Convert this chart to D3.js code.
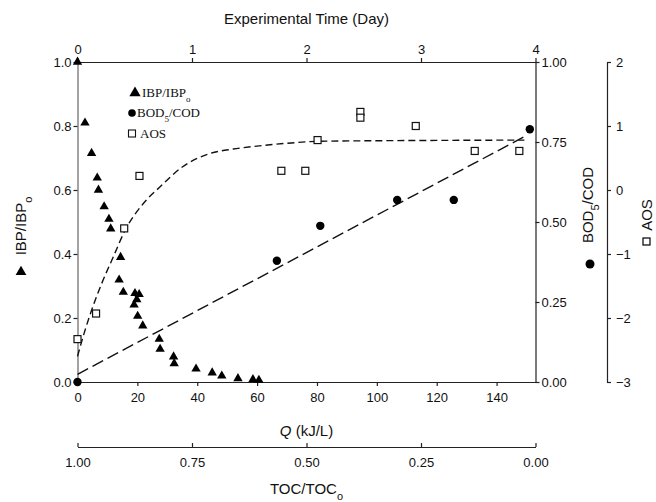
<!DOCTYPE html>
<html>
<head>
<meta charset="utf-8">
<script src="https://cdn.jsdelivr.net/npm/d3@7"></script>
<style>
  body { margin: 0; background: #fff; }
  svg text { font-family: "Liberation Sans", Arial, sans-serif; fill: #111; }
</style>
</head>
<body>
<div id="chart"></div>
<script>
// IBP/IBPo vs Q (kJ/L)
const ibpQ   = [0, 2.5, 4.7, 6.6, 7.0, 8.9, 10.5, 11.1, 14.4, 13.9, 15.3, 19.2, 20.6, 19.8, 18.9, 20.1, 21.8, 27.3, 27.6, 32.1, 32.3, 39.6, 45, 48.2, 53.6, 58.6, 60.6];
const ibpVal = [1.0, 0.81, 0.715, 0.638, 0.60, 0.548, 0.509, 0.479, 0.39, 0.319, 0.281, 0.277, 0.274, 0.258, 0.241, 0.206, 0.176, 0.134, 0.103, 0.079, 0.058, 0.041, 0.029, 0.019, 0.011, 0.008, 0.006];

// BOD5/COD vs Q
const bodQ   = [0, 66.6, 81.1, 106.8, 125.7, 151.1];
const bodVal = [0, 0.379, 0.488, 0.569, 0.569, 0.79];

// AOS vs Q
const aosQ   = [0, 6.2, 15.6, 20.7, 68.1, 76.1, 80.2, 94.5, 94.5, 113, 132.7, 147.6];
const aosVal = [-2.33, -1.93, -0.60, 0.22, 0.30, 0.30, 0.78, 1.22, 1.13, 1.0, 0.61, 0.61];

// fitted lines
const bodFitQ   = [0, 149.3];
const bodFitVal = [0.024, 0.767];
const aosFitQ   = [0, 2.2, 4.7, 8.1, 12, 15.9, 22, 27.6, 35, 44.3, 52, 58.8, 70, 80, 100, 120, 149.3];
const aosFitVal = [-2.6, -2.24, -1.88, -1.46, -1.04, -0.63, -0.21, 0.05, 0.36, 0.57, 0.64, 0.68, 0.73, 0.76, 0.77, 0.775, 0.78];

// axes ticks
const qTicks    = [0, 20, 40, 60, 80, 100, 120, 140];
const leftTicks = [0, 0.2, 0.4, 0.6, 0.8, 1.0];
const bodTicks  = [0, 0.25, 0.5, 0.75, 1.0];
const aosTicks  = [-3, -2, -1, 0, 1, 2];
const dayTicks  = [0, 1, 2, 3, 4];
const tocTicks  = [1.0, 0.75, 0.5, 0.25, 0];

const width = 656, height = 502;
const m = { left: 77.5, right: 535.5, top: 62, bottom: 382 };

const svg = d3.select("#chart").append("svg")
  .attr("width", width).attr("height", height);

const x = d3.scaleLinear().domain([0, 153]).range([m.left, m.right]);
const y = d3.scaleLinear().domain([0, 1]).range([m.bottom, m.top]);
const yAos = d3.scaleLinear().domain([-3, 2]).range([m.bottom, m.top]);
const xDay = d3.scaleLinear().domain([0, 4]).range([m.left, m.right]);
const xToc = d3.scaleLinear().domain([1, 0]).range([m.left, m.right]);

function styleAxis(g, size) {
  g.selectAll("path.domain").attr("stroke", "#222").attr("stroke-width", 1.2);
  g.selectAll(".tick line").attr("stroke", "#222").attr("stroke-width", 1.2);
  g.selectAll("text").style("font-family", "Liberation Sans, Arial, sans-serif")
    .style("font-size", (size || 13) + "px").attr("fill", "#111");
}

// bottom Q axis
svg.append("g").attr("transform", `translate(0,${m.bottom})`)
  .call(d3.axisBottom(x).tickValues(qTicks).tickSize(4).tickSizeOuter(0).tickPadding(7))
  .call(styleAxis);
// top day axis
svg.append("g").attr("transform", `translate(0,${m.top})`)
  .call(d3.axisTop(xDay).tickValues(dayTicks).tickSize(4).tickSizeOuter(0).tickFormat(d3.format("d")).tickPadding(4))
  .call(styleAxis);
// left axis
svg.append("g").attr("transform", `translate(${m.left},0)`)
  .call(d3.axisLeft(y).tickValues(leftTicks).tickSize(4).tickSizeOuter(0).tickFormat(d3.format(".1f")).tickPadding(2))
  .call(styleAxis)
  .call(g => g.select("path.domain").attr("stroke", "#666"));
// right BOD axis
svg.append("g").attr("transform", `translate(${m.right},0)`)
  .call(d3.axisRight(y).tickValues(bodTicks).tickSize(4).tickSizeOuter(0).tickFormat(d3.format(".2f")).tickPadding(2))
  .call(styleAxis);
// AOS axis
svg.append("g").attr("transform", `translate(607,0)`)
  .call(d3.axisRight(yAos).tickValues(aosTicks).tickSize(4).tickSizeOuter(0).tickFormat(d3.format("d")).tickPadding(5))
  .call(styleAxis);
// TOC axis
svg.append("g").attr("transform", `translate(0,447)`)
  .call(d3.axisBottom(xToc).tickValues(tocTicks).tickSize(-4).tickSizeOuter(0).tickFormat(d3.format(".2f")).tickPadding(11))
  .call(styleAxis);

// axis titles
svg.append("text").attr("x", (m.left + m.right) / 2).attr("y", 24)
  .attr("text-anchor", "middle").style("font-size", "15px").text("Experimental Time (Day)");

const qt = svg.append("text").attr("x", (m.left + m.right) / 2).attr("y", 436)
  .attr("text-anchor", "middle").style("font-size", "15px");
qt.append("tspan").style("font-style", "italic").text("Q");
qt.append("tspan").text(" (kJ/L)");

const tt = svg.append("text").attr("x", (m.left + m.right) / 2).attr("y", 494)
  .attr("text-anchor", "middle").style("font-size", "15px");
tt.append("tspan").text("TOC/TOC");
tt.append("tspan").attr("baseline-shift", "sub").style("font-size", "11px").text("o");

const lt = svg.append("text").attr("transform", "translate(26,226) rotate(-90)")
  .attr("text-anchor", "middle").style("font-size", "15px");
lt.append("tspan").text("IBP/IBP");
lt.append("tspan").attr("baseline-shift", "sub").style("font-size", "11px").text("o");
svg.append("path").attr("transform", "translate(21,272)")
  .attr("d", d3.symbol(d3.symbolTriangle, 50)()).attr("fill", "#000");

const bt = svg.append("text").attr("transform", "translate(593,205) rotate(-90)")
  .attr("text-anchor", "middle").style("font-size", "15px");
bt.append("tspan").text("BOD");
bt.append("tspan").attr("baseline-shift", "sub").style("font-size", "11px").text("5");
bt.append("tspan").attr("baseline-shift", "0").text("/COD");
svg.append("circle").attr("cx", 590).attr("cy", 264).attr("r", 4.5).attr("fill", "#000");

svg.append("text").attr("transform", "translate(652,215) rotate(-90)")
  .attr("text-anchor", "middle").style("font-size", "15px").text("AOS");
svg.append("rect").attr("x", 643).attr("y", 238).attr("width", 7).attr("height", 7)
  .attr("fill", "#fff").attr("stroke", "#000").attr("stroke-width", 1.2);

// fitted lines
const bodLine = d3.line().x((d, i) => x(bodFitQ[i])).y(d => y(d));
svg.append("path").datum(bodFitVal).attr("d", bodLine)
  .attr("fill", "none").attr("stroke", "#111").attr("stroke-width", 1.4).attr("stroke-dasharray", "12,5");

const aosLine = d3.line().x((d, i) => x(aosFitQ[i])).y(d => yAos(d)).curve(d3.curveMonotoneX);
svg.append("path").datum(aosFitVal).attr("d", aosLine)
  .attr("fill", "none").attr("stroke", "#111").attr("stroke-width", 1.4).attr("stroke-dasharray", "7,4");

// markers
const tri = d3.symbol(d3.symbolTriangle, 38);
svg.append("g").selectAll("path").data(ibpVal).join("path")
  .attr("transform", (d, i) => `translate(${x(ibpQ[i])},${y(d)})`)
  .attr("d", tri()).attr("fill", "#000");

svg.append("g").selectAll("circle").data(bodVal).join("circle")
  .attr("cx", (d, i) => x(bodQ[i])).attr("cy", d => y(d)).attr("r", 4.2).attr("fill", "#000");

svg.append("g").selectAll("rect").data(aosVal).join("rect")
  .attr("x", (d, i) => x(aosQ[i]) - 3.5).attr("y", d => yAos(d) - 3.5)
  .attr("width", 7).attr("height", 7)
  .attr("fill", "#fff").attr("stroke", "#111").attr("stroke-width", 1.2);

// legend
const lg = svg.append("g");
lg.append("path").attr("transform", "translate(135,93)").attr("d", d3.symbol(d3.symbolTriangle, 55)()).attr("fill", "#000");
const l1 = lg.append("text").attr("x", 142).attr("y", 97).style("font-family", "Liberation Serif, serif").style("font-size", "13px");
l1.append("tspan").text("IBP/IBP");
l1.append("tspan").attr("baseline-shift", "sub").style("font-size", "9px").text("o");
lg.append("circle").attr("cx", 132).attr("cy", 113).attr("r", 3.8).attr("fill", "#000");
const l2 = lg.append("text").attr("x", 137).attr("y", 117).style("font-family", "Liberation Serif, serif").style("font-size", "13px");
l2.append("tspan").text("BOD");
l2.append("tspan").attr("baseline-shift", "sub").style("font-size", "9px").text("5");
l2.append("tspan").attr("baseline-shift", "0").text("/COD");
lg.append("rect").attr("x", 128.5).attr("y", 130).attr("width", 7).attr("height", 7)
  .attr("fill", "#fff").attr("stroke", "#111").attr("stroke-width", 1.1);
lg.append("text").attr("x", 140).attr("y", 138).style("font-family", "Liberation Serif, serif").style("font-size", "13px").text("AOS");
</script>
</body>
</html>
